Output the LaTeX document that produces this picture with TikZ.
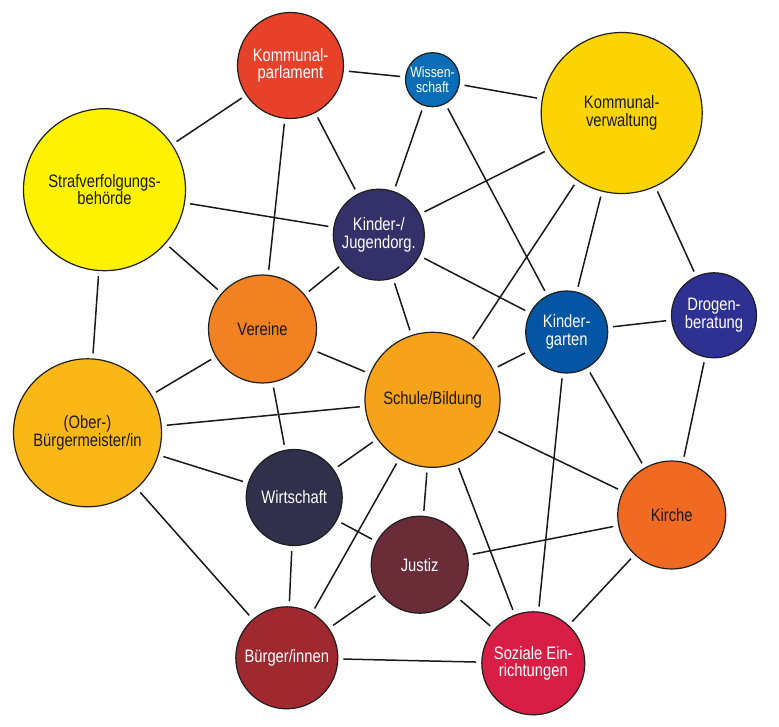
\documentclass[tikz,border=0pt]{standalone}
\usepackage{fontspec}
\setmainfont[FakeStretch=0.82]{Liberation Sans}
\begin{document}
\begin{tikzpicture}[x=1pt,y=-1pt,
  ball/.style={circle,draw=black!88,line width=1.2pt,inner sep=0pt,align=center,
    font=\fontsize{18}{17.5}\selectfont},
  lt/.style={text=white},
  dk/.style={text=black!90},
  link/.style={draw=black!90,line width=1.5pt,shorten <=5pt,shorten >=5pt}]
\useasboundingbox (0,0) rectangle (779,727);
\definecolor{cKP}{HTML}{E8412A}
\definecolor{cWI}{HTML}{0A6DB8}
\definecolor{cKV}{HTML}{FDD403}
\definecolor{cSV}{HTML}{FFF200}
\definecolor{cKJ}{HTML}{34316A}
\definecolor{cVE}{HTML}{F28121}
\definecolor{cKG}{HTML}{0455A4}
\definecolor{cDB}{HTML}{2E3192}
\definecolor{cSB}{HTML}{F7A21B}
\definecolor{cBM}{HTML}{FBB716}
\definecolor{cWS}{HTML}{30304A}
\definecolor{cKI}{HTML}{F06A22}
\definecolor{cJU}{HTML}{6A2C37}
\definecolor{cBI}{HTML}{A0282F}
\definecolor{cSE}{HTML}{D81E45}
\node[ball,lt,fill=cKP,minimum size=106pt] (KP) at (290.5,65.5) {Kommunal-\\parlament};
\node[ball,lt,fill=cWI,minimum size=54pt,font=\fontsize{15}{15}\selectfont] (WI) at (432.5,79.7) {Wissen-\\schaft};
\node[ball,dk,fill=cKV,minimum size=161pt] (KV) at (621.7,113) {Kommunal-\\verwaltung};
\node[ball,dk,fill=cSV,minimum size=162pt] (SV) at (104.5,189.7) {Strafverfolgungs-\\behörde};
\node[ball,lt,fill=cKJ,minimum size=91pt] (KJ) at (378.8,234.7) {Kinder-/\\Jugendorg.};
\node[ball,dk,fill=cVE,minimum size=108pt] (VE) at (262.5,329) {Vereine};
\node[ball,lt,fill=cKG,minimum size=82pt] (KG) at (566.7,332) {Kinder-\\garten};
\node[ball,lt,fill=cDB,minimum size=85pt] (DB) at (714,315.3) {Drogen-\\beratung};
\node[ball,dk,fill=cSB,minimum size=135pt] (SB) at (432.5,399.8) {Schule/Bildung};
\node[ball,dk,fill=cBM,minimum size=148pt] (BM) at (87.5,432.8) {(Ober-)\\Bürgermeister/in};
\node[ball,lt,fill=cWS,minimum size=96pt] (WS) at (294.2,497.5) {Wirtschaft};
\node[ball,dk,fill=cKI,minimum size=108pt] (KI) at (671.7,515) {Kirche};
\node[ball,lt,fill=cJU,minimum size=97pt] (JU) at (419.7,564.7) {Justiz};
\node[ball,lt,fill=cBI,minimum size=102pt] (BI) at (286.8,657.8) {Bürger/innen};
\node[ball,lt,fill=cSE,minimum size=103pt] (SE) at (533.3,663.3) {Soziale Ein-\\richtungen};
\begin{scope}[on background layer/.try]
\end{scope}
\foreach \a/\b in {KP/WI,KP/SV,KP/VE,KP/KJ,WI/KV,WI/KJ,WI/KG,KV/KJ,KV/SB,KV/KG,KV/DB,
  SV/KJ,SV/VE,SV/BM,KJ/VE,KJ/KG,KJ/SB,VE/BM,VE/SB,VE/WS,KG/DB,KG/SB,KG/KI,KG/SE,DB/KI,
  SB/BM,SB/WS,SB/BI,SB/KI,SB/JU,SB/SE,BM/WS,BM/BI,WS/BI,WS/JU,JU/KI,JU/BI,JU/SE,BI/SE,KI/SE}
  \draw[link] (\a) -- (\b);
\end{tikzpicture}
\end{document}
